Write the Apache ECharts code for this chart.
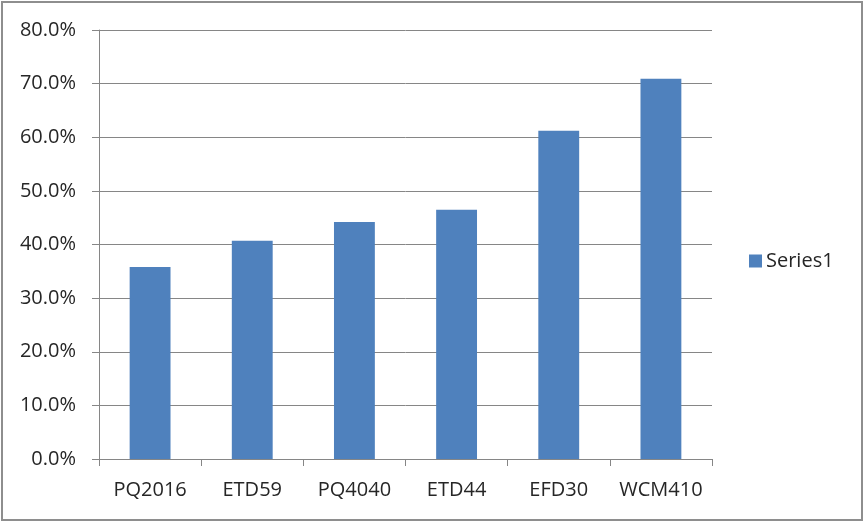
<!DOCTYPE html>
<html><head><meta charset="utf-8">
<script src="https://cdn.jsdelivr.net/npm/echarts@6/dist/echarts.min.js"></script>
<style>html,body{margin:0;padding:0;background:#fff}#c{width:864px;height:523px}
#frame{position:absolute;left:1px;top:1px;width:858px;height:516px;border:2px solid #8e8e8e;pointer-events:none}</style>
</head><body><div id="c"></div><div id="frame"></div>
<script>
const categories = ["PQ2016","ETD59","PQ4040","ETD44","EFD30","WCM410"];
const series1 = [35.8, 40.7, 44.2, 46.5, 61.2, 70.9];
const seriesName = "Series1";
const chart = echarts.init(document.getElementById('c'), null, {renderer:'canvas'});
const font = "Open Sans";
chart.setOption({
  animation:false,
  textStyle:{fontFamily:font},
  grid:{left:99,right:152,top:30,bottom:64,containLabel:false},
  legend:{orient:'vertical',left:749,top:251,padding:0,itemWidth:13,itemHeight:13,itemGap:6,icon:'rect',
    textStyle:{fontFamily:font,fontSize:20,color:'#262626',padding:[0,0,0,-1]},data:[seriesName]},
  xAxis:{type:'category',data:categories,
    axisLine:{lineStyle:{color:'#868686',width:1}},
    axisTick:{show:true,length:7,interval:0,lineStyle:{color:'#868686'}},
    axisLabel:{fontFamily:font,fontSize:20,color:'#262626',margin:21,interval:0}},
  yAxis:{type:'value',min:0,max:80,interval:10,
    axisLine:{show:true,lineStyle:{color:'#868686'}},
    axisTick:{show:true,length:7,lineStyle:{color:'#868686'}},
    splitLine:{lineStyle:{color:'#868686',width:1}},
    axisLabel:{fontFamily:font,fontSize:20,color:'#262626',margin:23,formatter:v=>v.toFixed(1)+'%'}},
  series:[{name:seriesName,type:'bar',data:series1,barWidth:'40%',
    itemStyle:{color:'#4F81BD'}}]
});
</script></body></html>
